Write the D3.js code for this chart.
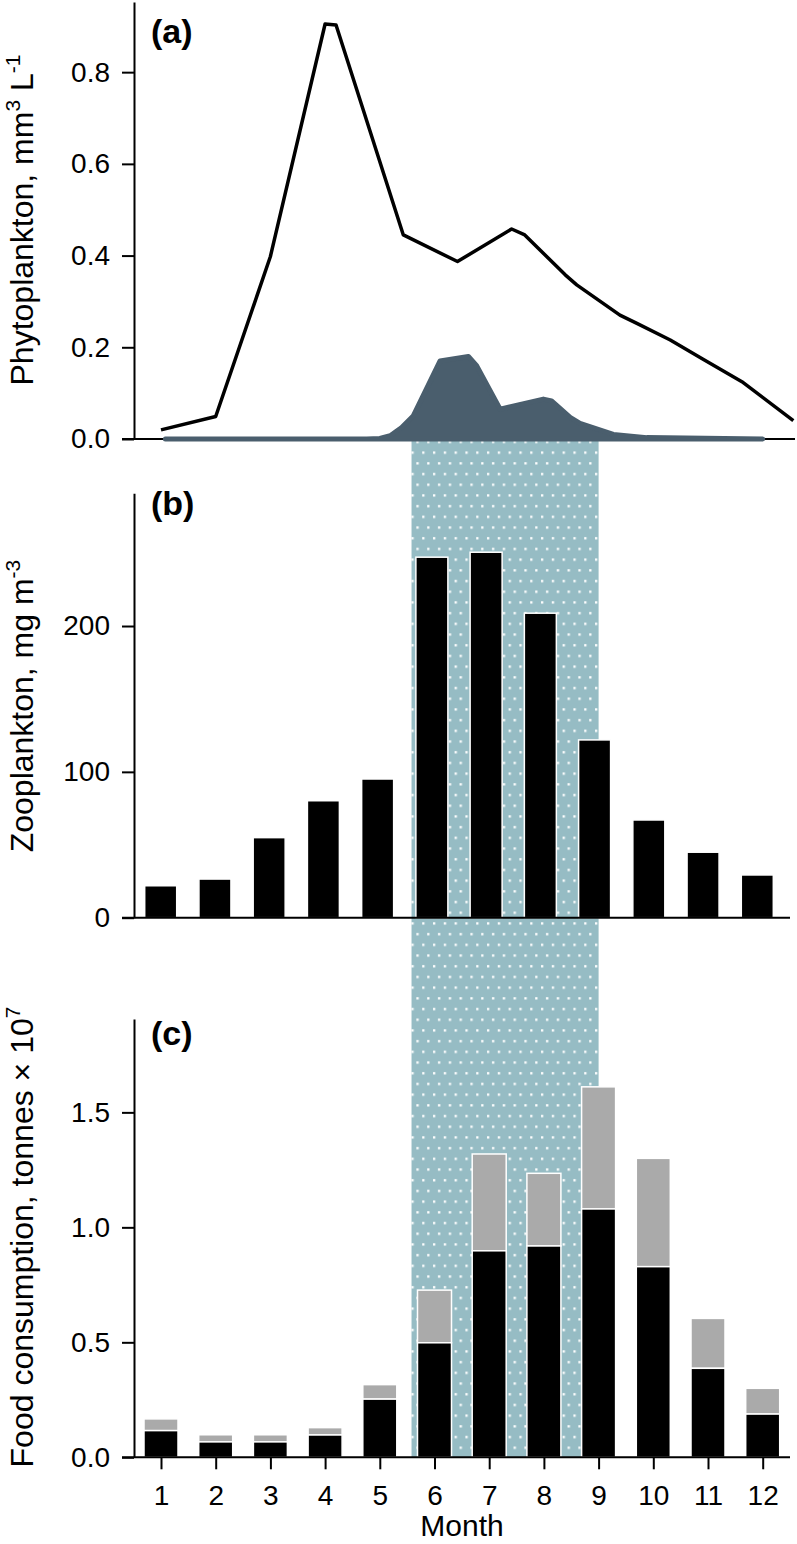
<!DOCTYPE html>
<html>
<head>
<meta charset="utf-8">
<script src="https://cdn.jsdelivr.net/npm/d3@7"></script>
<style>
  body { margin: 0; background: #fff; }
  svg { display: block; }
  text { font-family: "Liberation Sans", Arial, Helvetica, sans-serif; fill: #000; }
</style>
</head>
<body>
<svg id="chart" width="797" height="1544"></svg>
<script>
// ---------------- DATA ----------------
const months = [1, 2, 3, 4, 5, 6, 7, 8, 9, 10, 11, 12];
const monthLabels = ["1", "2", "3", "4", "5", "6", "7", "8", "9", "10", "11", "12"];

// Panel (a): phytoplankton (black line) and the dark filled curve
const phytoMonth = [1, 2, 3, 4, 4.2, 5.43, 6.42, 7.41, 7.65, 8.39, 8.6, 9.39, 9.7, 10.31, 10.91, 11.62, 12.56];
const phytoValue = [0.02, 0.049, 0.398, 0.905, 0.903, 0.445, 0.387, 0.458, 0.445, 0.358, 0.336, 0.27, 0.252, 0.216, 0.174, 0.125, 0.04];
const darkMonth = [1.08, 4.76, 5.0, 5.19, 5.40, 5.61, 6.10, 6.62, 6.77, 7.20, 7.99, 8.14, 8.48, 8.66, 9.27, 9.88, 12.0];
const darkValue = [0, 0, 0.001, 0.007, 0.025, 0.05, 0.17, 0.18, 0.16, 0.065, 0.087, 0.083, 0.047, 0.034, 0.010, 0.003, 0];
const phytoTicks = [0, 0.2, 0.4, 0.6, 0.8];

// Panel (b): zooplankton biomass
const zooBiomass = [21.9, 26.5, 54.9, 80.2, 95.1, 247.2, 250.6, 208.8, 121.9, 67.0, 44.9, 29.3];
const zooTicks = [0, 100, 200];

// Panel (c): food consumption (black = lower part, grey = upper part)
const consBlack = [0.116, 0.067, 0.067, 0.097, 0.253, 0.498, 0.898, 0.919, 1.08, 0.829, 0.387, 0.188];
const consGrey  = [0.051, 0.031, 0.031, 0.032, 0.063, 0.229, 0.421, 0.316, 0.531, 0.471, 0.217, 0.112];
const consTicks = [0, 0.5, 1.0, 1.5];

// Shaded period (in months)
const bandMonths = [5.58, 9.0];

// ---------------- LAYOUT ----------------
const svg = d3.select("#chart");
const axisX = 134;
const bandColor = "#96bcc4";
const darkColor = "#4a5e6d";
const greyColor = "#aaaaaa";

const xA = d3.scaleLinear().domain([1, 12]).range([161, 762.7]);
const xB = d3.scaleLinear().domain([1, 12]).range([160.7, 757.3]);
const xC = xA;

const yA = d3.scaleLinear().domain([0, 0.953]).range([439, 2]);
const yB = d3.scaleLinear().domain([0, 291]).range([917.7, 493.3]);
const yC = d3.scaleLinear().domain([0, 1.906]).range([1457.3, 1019]);

// pattern for the shaded band
const defs = svg.append("defs");
const pat = defs.append("pattern")
  .attr("id", "dots").attr("patternUnits", "userSpaceOnUse")
  .attr("width", 10.8).attr("height", 21.4);
pat.append("rect").attr("width", 10.8).attr("height", 21.4).attr("fill", bandColor);
pat.append("rect").attr("x", 6.0).attr("y", 12.8).attr("width", 2.3).attr("height", 2.3).attr("fill", "#fff");
pat.append("rect").attr("x", 1.0).attr("y", 2.1).attr("width", 2.3).attr("height", 2.3).attr("fill", "#fff");

svg.append("rect")
  .attr("x", xC(bandMonths[0]))
  .attr("width", xC(bandMonths[1]) - xC(bandMonths[0]))
  .attr("y", 441)
  .attr("height", yC(0) - 441)
  .attr("fill", "url(#dots)");

function yAxis(scale, ticks, fmt) {
  const g = svg.append("g").attr("transform", `translate(${axisX},0)`)
    .call(d3.axisLeft(scale).tickValues(ticks).tickFormat(fmt)
      .tickSize(12).tickPadding(12).tickSizeOuter(0));
  g.selectAll("path, line").attr("stroke", "#000").attr("stroke-width", 2);
  g.selectAll("text").attr("font-size", 28).attr("fill", "#000")
    .style("font-family", '"Liberation Sans", Arial, sans-serif');
  return g;
}
function hLine(y, x2) {
  svg.append("line").attr("x1", axisX - 12).attr("x2", x2)
    .attr("y1", y).attr("y2", y).attr("stroke", "#000").attr("stroke-width", 2);
}

// ---------------- PANEL (a) ----------------
yAxis(yA, phytoTicks, d3.format(".1f"));
hLine(yA(0), 795);

const area = d3.area().x((d, i) => xA(darkMonth[i])).y0(yA(0)).y1((d, i) => yA(darkValue[i]));
svg.append("path").datum(darkValue).attr("d", area)
  .attr("fill", darkColor).attr("stroke", darkColor).attr("stroke-width", 5)
  .attr("stroke-linejoin", "round");

const line = d3.line().x((d, i) => xA(phytoMonth[i])).y((d, i) => yA(phytoValue[i]));
svg.append("path").datum(phytoValue).attr("d", line)
  .attr("fill", "none").attr("stroke", "#000").attr("stroke-width", 3.5)
  .attr("stroke-linejoin", "round");

// ---------------- PANEL (b) ----------------
const bwB = 32;
svg.append("g").selectAll("rect").data(zooBiomass).join("rect")
  .attr("x", (d, i) => xB(months[i]) - bwB / 2)
  .attr("width", bwB)
  .attr("y", d => yB(d))
  .attr("height", d => yB(0) - yB(d))
  .attr("fill", "#000").attr("stroke", "#fff").attr("stroke-width", 1.5);
yAxis(yB, zooTicks, d3.format("d"));
hLine(yB(0), 790);

// ---------------- PANEL (c) ----------------
const bwC = 34;
const gc = svg.append("g");
gc.selectAll("rect.g").data(consGrey).join("rect").attr("class", "g")
  .attr("x", (d, i) => xC(months[i]) - bwC / 2)
  .attr("width", bwC)
  .attr("y", (d, i) => yC(consBlack[i] + d))
  .attr("height", (d, i) => yC(consBlack[i]) - yC(consBlack[i] + d))
  .attr("fill", greyColor).attr("stroke", "#fff").attr("stroke-width", 1.5);
gc.selectAll("rect.b").data(consBlack).join("rect").attr("class", "b")
  .attr("x", (d, i) => xC(months[i]) - bwC / 2)
  .attr("width", bwC)
  .attr("y", d => yC(d))
  .attr("height", d => yC(0) - yC(d))
  .attr("fill", "#000").attr("stroke", "#fff").attr("stroke-width", 1.5);
yAxis(yC, consTicks, d3.format(".1f"));
hLine(yC(0), 790);

const xg = svg.append("g").attr("transform", `translate(0,${yC(0)})`)
  .call(d3.axisBottom(xC).tickValues(months).tickFormat((d, i) => monthLabels[i])
    .tickSize(12).tickPadding(16).tickSizeOuter(0));
xg.select(".domain").remove();
xg.selectAll("line").attr("stroke", "#000").attr("stroke-width", 2);
xg.selectAll("text").attr("font-size", 28).attr("fill", "#000")
  .style("font-family", '"Liberation Sans", Arial, sans-serif');

// ---------------- TEXT ----------------
svg.append("text").attr("x", 462).attr("y", 1536).attr("text-anchor", "middle")
  .attr("font-size", 30).text("Month");

function yTitle(cy, parts) {
  const t = svg.append("text").attr("transform", `translate(33,${cy}) rotate(-90)`)
    .attr("text-anchor", "middle").attr("font-size", 32);
  parts.forEach(p => {
    const s = t.append("tspan").text(p.t);
    if (p.sup) s.attr("font-size", 21).attr("dy", -13);
    if (p.down) s.attr("dy", 13);
  });
}
yTitle(220, [{t: "Phytoplankton, mm"}, {t: "3", sup: true}, {t: " L", down: true}, {t: "-1", sup: true}]);
yTitle(706, [{t: "Zooplankton, mg m"}, {t: "-3", sup: true}]);
yTitle(1237, [{t: "Food consumption, tonnes \u00d7 10"}, {t: "7", sup: true}]);

const panelLabels = [["(a)", 43], ["(b)", 515], ["(c)", 1045]];
panelLabels.forEach(([txt, y]) => {
  svg.append("text").attr("x", 151).attr("y", y).attr("font-size", 34)
    .attr("font-weight", "bold").text(txt);
});
</script>
</body>
</html>
